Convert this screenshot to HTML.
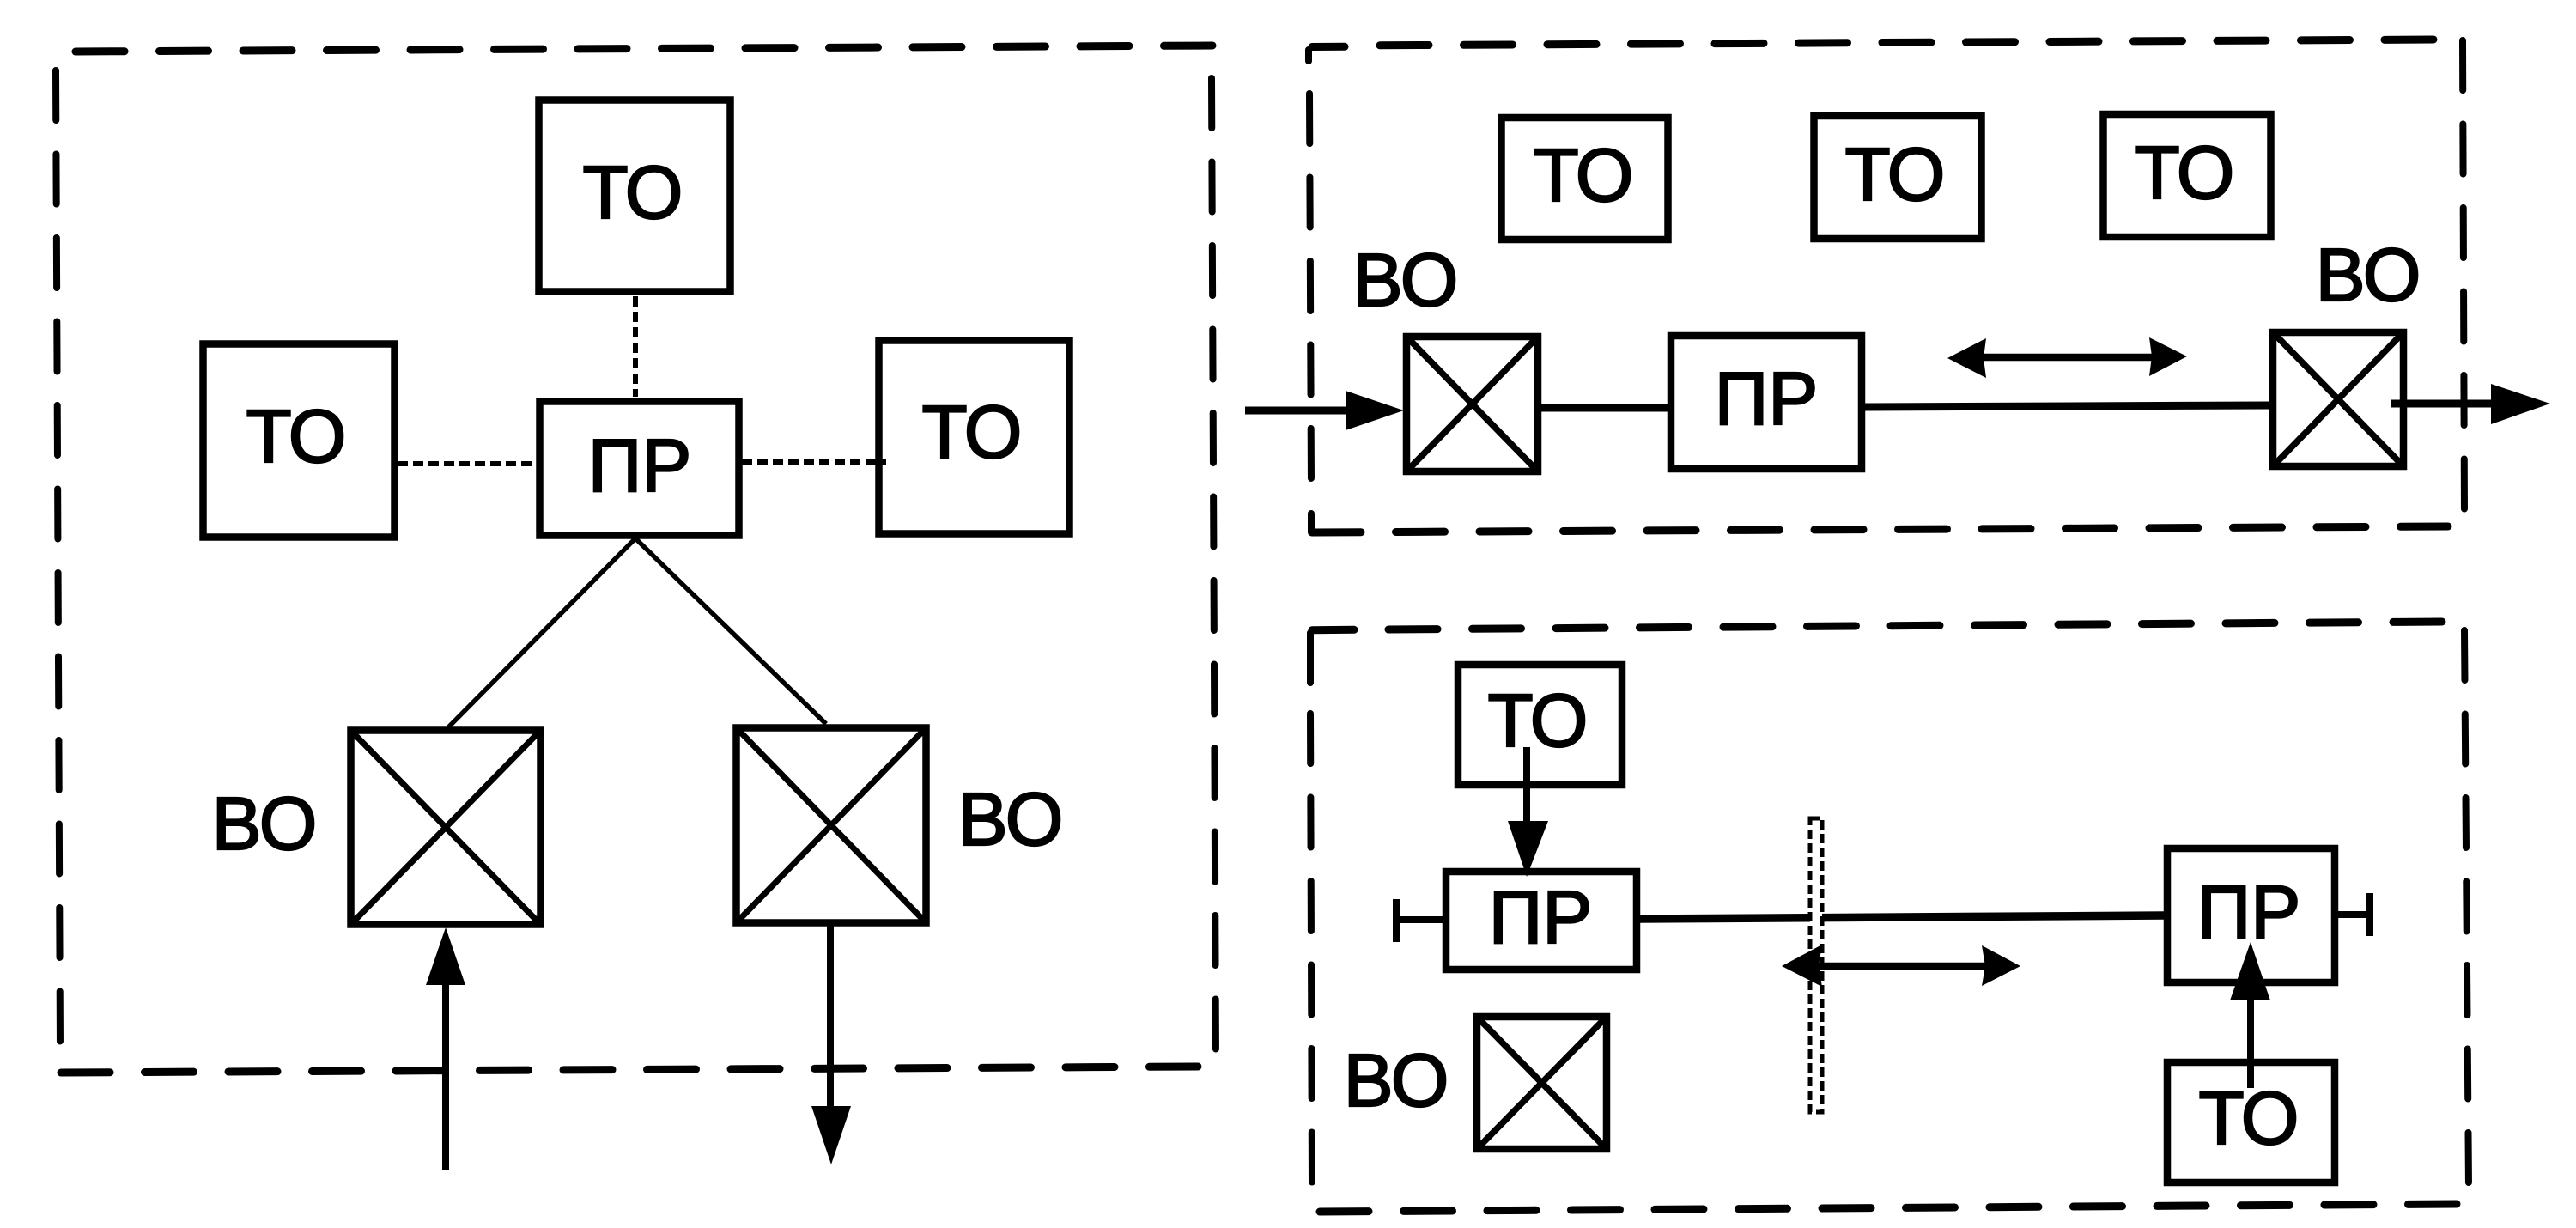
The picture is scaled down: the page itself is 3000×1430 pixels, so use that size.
<!DOCTYPE html>
<html lang="ru"><head><meta charset="utf-8"><title>Схема</title>
<style>
html,body{margin:0;padding:0;background:#fff}
svg{display:block}
text{font-family:"Liberation Sans",sans-serif;font-size:87px;text-anchor:middle;fill:#000;stroke:#000;stroke-width:2.2}
.b{fill:#fff;stroke:#000;stroke-width:8.5}
.n{fill:none;stroke:#000;stroke-width:8.5}
.x{stroke:#000;stroke-width:7;fill:none}
.d{stroke:#000;stroke-width:9;stroke-linecap:round;stroke-dasharray:57 40.5;fill:none}
.v{stroke:#000;stroke-width:8;stroke-linecap:round;stroke-dasharray:58 39.5;fill:none}
.t{stroke:#000;stroke-width:6;stroke-dasharray:12 6;fill:none}
.l{stroke:#000;stroke-width:5.5;fill:none}
.s{stroke:#000;stroke-width:8;fill:none}
.h{fill:#000;stroke:none}
</style></head><body>
<svg width="3000" height="1430" viewBox="0 0 3000 1430" xmlns="http://www.w3.org/2000/svg">
<rect width="3000" height="1430" fill="#fff"/>

<!-- LEFT PANEL -->
<path class="d" d="M88 60L1412 53"/>
<path class="v" d="M65 82L70 1222"/>
<path class="d" d="M71 1249L1395 1242"/>
<path class="v" d="M1411 91L1416 1231"/>

<path class="t" d="M740 345V462"/>
<path class="t" d="M463 540H626"/>
<path class="t" d="M864 538H1032"/>
<path class="l" d="M522 847L740 627L962 843"/>

<rect class="b" x="627.5" y="116.5" width="223" height="223"/>
<rect class="n" x="236.5" y="400.5" width="223" height="225"/>
<rect class="n" x="1023.5" y="396.5" width="222" height="225"/>
<rect class="b" x="628.5" y="467.5" width="232" height="156"/>
<rect class="b" x="408.5" y="850.5" width="221" height="226"/>
<path class="x" d="M408.5 850.5L629.5 1076.5M629.5 850.5L408.5 1076.5"/>
<rect class="b" x="857.5" y="847.5" width="221" height="227"/>
<path class="x" d="M857.5 847.5L1078.5 1074.5M1078.5 847.5L857.5 1074.5"/>

<text x="737" y="254">ТО</text>
<text x="345" y="538">ТО</text>
<text x="1132" y="533">ТО</text>
<text x="745" y="572">ПР</text>
<text x="308" y="989">ВО</text>
<text x="1177" y="984">ВО</text>

<path class="s" d="M519 1362V1140"/>
<polygon class="h" points="519,1080 542,1147 496,1147"/>
<path class="s" d="M967 1078V1295"/>
<polygon class="h" points="945,1288 991,1288 968,1356"/>

<!-- TOP RIGHT PANEL -->
<path class="d" d="M1528 54.5L1566 54.3M1607 52.8L2834 46" />
<path class="v" d="M1524 58V71M1525 109L1527 565M1527 598V620"/>
<path class="d" d="M1528 620L2851 613"/>
<path class="v" d="M2868 47L2870 600"/>

<rect class="b" x="1748.5" y="137" width="194" height="142"/>
<rect class="b" x="2112.5" y="135" width="195" height="143"/>
<rect class="b" x="2449.5" y="133" width="195" height="143"/>
<text x="1844" y="234">ТО</text>
<text x="2207" y="233">ТО</text>
<text x="2544" y="231">ТО</text>

<text x="1637" y="356">ВО</text>
<text x="2758" y="350">ВО</text>

<path class="s" d="M1794 475H1942" style="stroke-width:9"/>
<path class="s" d="M2172 474L2643 472" style="stroke-width:9"/>
<rect class="b" x="1638" y="392" width="153" height="157"/>
<path class="x" d="M1638 392L1791 549M1791 392L1638 549" style="stroke-width:7.5"/>
<rect class="b" x="1946" y="391" width="222" height="155"/>
<text x="2057" y="494">ПР</text>
<rect class="b" x="2647" y="387" width="152" height="156"/>
<path class="x" d="M2647 387L2799 543M2799 387L2647 543" style="stroke-width:7.5"/>

<path class="s" d="M1450 478H1570" style="stroke-width:9"/>
<polygon class="h" points="1567,455 1635,478 1567,501"/>
<path class="s" d="M2784 470H2905" style="stroke-width:9"/>
<polygon class="h" points="2901,447 2970,470 2901,494"/>

<path class="s" d="M2300 416H2515" style="stroke-width:8.5"/>
<polygon class="h" points="2268,417 2313,394 2310,417 2313,440"/>
<polygon class="h" points="2547,415 2503,393 2506,415 2503,438"/>

<!-- BOTTOM RIGHT PANEL -->
<path class="d" d="M1528 733.7L1577 733.3M1617 733L2844 724"/>
<path class="v" d="M1526 737V795M1526 831L1528 1384"/>
<path class="d" d="M1537 1411L2861 1402"/>
<path class="v" d="M2870 734L2875 1383"/>

<path class="s" d="M1909 1070L2520 1066" style="stroke-width:9.5"/>
<rect x="2108" y="953" width="14" height="342" fill="#fff" stroke="#000" stroke-width="5" stroke-dasharray="11 5"/>

<rect class="b" x="1698" y="774" width="191" height="140"/>
<text x="1791" y="869">ТО</text>
<rect class="b" x="1684" y="1015" width="222" height="114"/>
<text x="1794" y="1098">ПР</text>
<path class="s" d="M1626 1071H1680"/>
<path class="s" d="M1626 1047V1097"/>

<rect class="b" x="2524" y="988" width="195" height="156"/>
<text x="2619" y="1092">ПР</text>
<path class="s" d="M2722 1065H2760"/>
<path class="s" d="M2760 1040V1090"/>

<rect class="b" x="2524" y="1237" width="195" height="140"/>
<text x="2619" y="1332">ТО</text>

<path class="s" d="M1778 870V960"/>
<polygon class="h" points="1756,956 1803,956 1778,1021"/>
<path class="s" d="M2621 1267V1160"/>
<polygon class="h" points="2621,1097 2644,1165 2597,1165"/>

<rect class="b" x="1720" y="1184" width="151" height="154"/>
<path class="x" d="M1720 1184L1871 1338M1871 1184L1720 1338" style="stroke-width:7.5"/>
<text x="1626" y="1288">ВО</text>

<path class="s" d="M2100 1125H2325" style="stroke-width:8.5"/>
<polygon class="h" points="2075,1125 2122,1100 2118,1125 2122,1149"/>
<polygon class="h" points="2353,1125 2308,1101 2312,1125 2308,1148"/>
</svg>
</body></html>
